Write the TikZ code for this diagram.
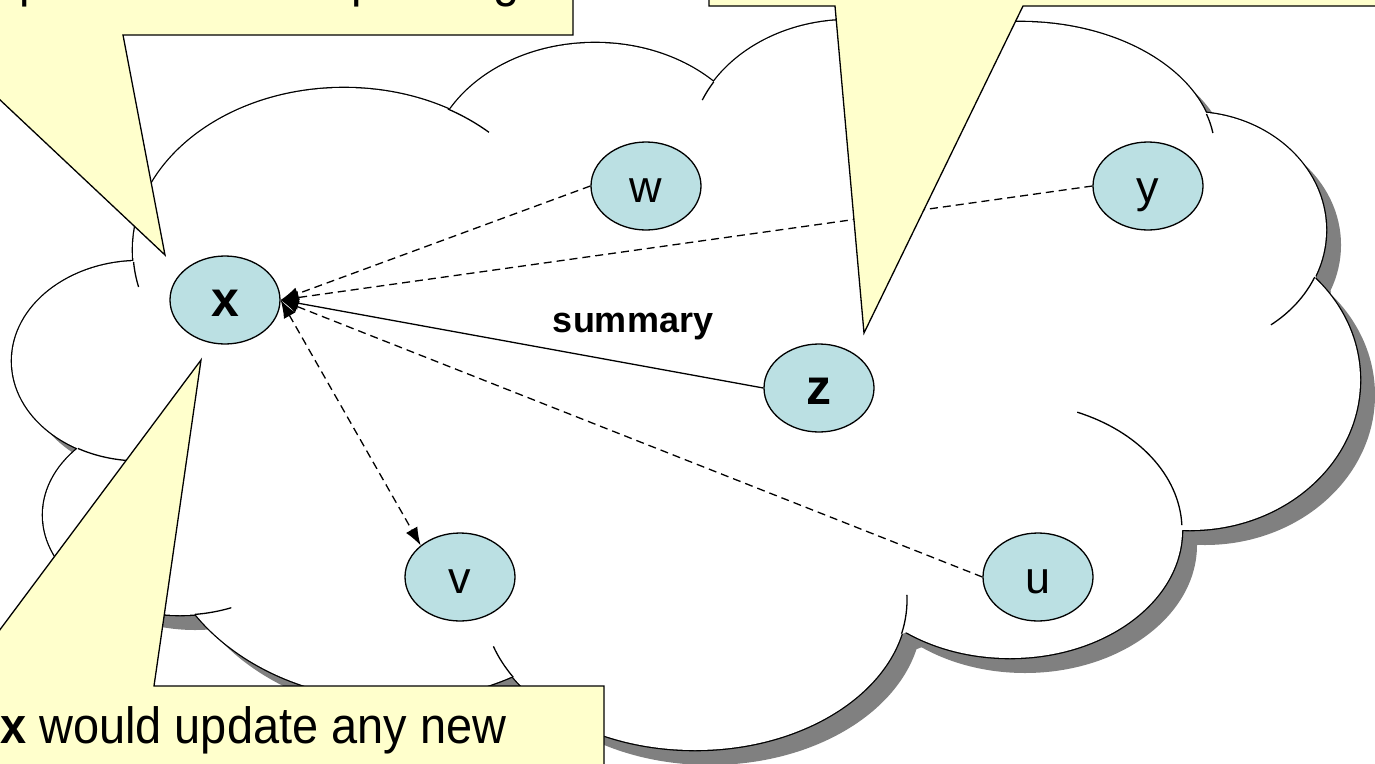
\documentclass[tikz,border=0pt]{standalone}
\usepackage{fontspec}
\setmainfont{Liberation Sans}
\newfontfamily\notefont{Liberation Sans}[FakeStretch=0.92]
\usetikzlibrary{shapes.geometric, arrows.meta}

\definecolor{peerblue}{RGB}{187,224,227}
\definecolor{noteyellow}{RGB}{255,255,204}
\definecolor{shadowgrey}{RGB}{128,128,128}

% lobes of the cloud: centre x / centre y / x radius / y radius
\newcommand{\cloudlobes}{140/-361/128/100, 344/-250/211/162, 595/-173/166/130,
    850/-150/160/130, 1020/-152/195/130, 1190/-230/136/118, 1190/-380/170/150,
    1010/-530/172/128, 695/-600/212/150, 396/-514/238/186, 180/-515/137/100}

\begin{document}
\begin{tikzpicture}[x=1pt, y=1pt,
        >={Latex[length=18pt, width=13pt]},
        peer/.style={ellipse, draw, line width=1.3pt, fill=peerblue,
            minimum width=110pt, minimum height=88pt, inner sep=0pt,
            text height=40pt, text depth=7pt, font=\fontsize{45}{54}\selectfont},
        boldpeer/.style={peer, font=\bfseries\fontsize{50}{60}\selectfont},
        gossip/.style={draw, line width=1.3pt, dash pattern=on 8pt off 5pt, ->},
        note/.style={draw, line width=1.3pt, fill=noteyellow},
        notetext/.style={anchor=base west, inner sep=0pt,
            font=\notefont\fontsize{51}{61}\selectfont},
        cloudcore/.style={insert path={(134,-262) -- (449,-109) -- (714,-82)
            -- (925,-36) -- (1207,-114) -- (1316,-277) -- (1180,-525)
            -- (902,-634) -- (514,-677) -- (195,-614) -- (78,-448) -- cycle}}]

    \useasboundingbox (0,0) rectangle (1375,-763);
    \clip (0,0) rectangle (1375,-763);
    \fill[white] (0,0) rectangle (1375,-763);

    % Cloud shadow
    \begin{scope}[shift={(15,-15)}]
        \fill[shadowgrey] \foreach \cx/\cy/\rx/\ry in \cloudlobes
            {(\cx,\cy) ellipse[x radius=\rx, y radius=\ry]};
        \fill[shadowgrey, cloudcore];
    \end{scope}

    % Cloud: thick outline first, the white fill hides its inner half
    \draw[line width=2.6pt] \foreach \cx/\cy/\rx/\ry in \cloudlobes
        {(\cx,\cy) ellipse[x radius=\rx, y radius=\ry]};
    \fill[white] \foreach \cx/\cy/\rx/\ry in \cloudlobes
        {(\cx,\cy) ellipse[x radius=\rx, y radius=\ry]};
    \fill[white, cloudcore];

    % Short inner arcs of the cloud
    \foreach \cx/\cy/\rx/\ry/\starta/\enda in {344/-250/211/162/184.2/193.2,
            344/-250/211/162/60.5/46.6, 850/-150/160/130/148.4/157.4,
            1020/-152/195/130/17/8.4, 1190/-230/136/118/-23.5/-53.5,
            1010/-530/172/128/2.2/67, 695/-600/212/150/-13/2,
            695/-600/212/150/211/198, 180/-515/137/100/-83.7/-68,
            140/-361/128/100/-119/-95}
        \draw[line width=1.3pt] (\cx,\cy) ++(\starta:{\rx} and {\ry})
            arc[start angle=\starta, end angle=\enda, x radius=\rx, y radius=\ry];

    % Peers
    \node[boldpeer] (x) at (225,-300) {x};
    \node[peer] (w) at (646,-186) {w};
    \node[peer] (y) at (1148,-186) {y};
    \node[boldpeer] (z) at (819,-388) {z};
    \node[peer] (v) at (460,-577) {v};
    \node[peer] (u) at (1038,-577) {u};

    % Links towards x
    \draw[gossip] (w.west) -- (x.east);
    \draw[gossip] (y.west) -- (x.east);
    \draw[gossip] (u.west) -- (x.east);
    \draw[gossip, solid] (z.west) -- node[pos=0.27, yshift=38pt,
        font=\bfseries\fontsize{36}{43}\selectfont] (summary) {summary} (x.east);
    \draw[gossip, <->] (x.east) -- (v.north west);

    % Notes
    \path[note] (-200,300) -- (573,300) -- (573,-35) -- (123,-35) -- (165,-255)
        -- (-69,-35) -- (-200,-35) -- cycle;
    \node[notetext] (topleft) at (19,4) {p\hspace{306pt}p\hspace{116pt}g};
    \path[note] (709,300) -- (1600,300) -- (1600,-6) -- (1023,-6) -- (864,-333)
        -- (835,-6) -- (709,-6) -- cycle;
    \path[note] (-200,-686) -- (-42,-686) -- (201,-360) -- (154,-686)
        -- (604,-686) -- (604,-1000) -- (-200,-1000) -- cycle;
    \node[notetext] (bottom) at (0,-743) {\textbf{x} would update any new};

\end{tikzpicture}
\end{document}
